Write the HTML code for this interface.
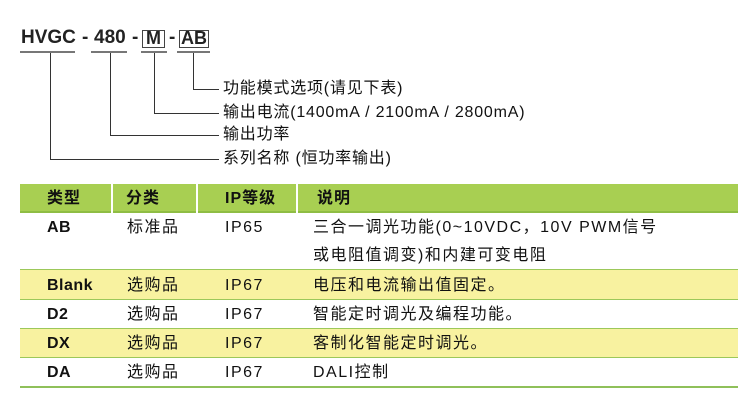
<!DOCTYPE html>
<html><head><meta charset="utf-8"><style>
body{margin:0;width:750px;height:411px;background:#fff;position:relative;overflow:hidden;font-family:"Liberation Sans","Noto Sans CJK SC",sans-serif;color:#111}
.t{position:absolute;font-size:16px;line-height:18px;white-space:nowrap;letter-spacing:1.5px}
.lb{position:absolute;font-size:16px;line-height:18px;white-space:nowrap;letter-spacing:0.8px}
.ln{position:absolute;background:#333}
.ul{position:absolute;height:2px;background:#777;top:51px}
.box{position:absolute;border:1.5px solid #444;top:30px;height:16px}
.code{position:absolute;top:27px;font-size:19px;font-weight:bold;line-height:22px;color:#222}
.hd{position:absolute;top:184px;height:27px;background:#a8cf52;border-bottom:2px solid #8fbd44}
.hdt{position:absolute;top:189px;font-size:16px;font-weight:bold;line-height:20px;letter-spacing:1px}
.row{position:absolute;left:20px;width:718px;border-bottom:1.5px solid #9cc85a}
.c1{font-weight:bold;letter-spacing:0.5px}
</style></head><body>
<div class="code" style="left:21px">HVGC</div>
<div class="code" style="left:82px">-</div>
<div class="code" style="left:94px">480</div>
<div class="code" style="left:132px">-</div>
<div class="code" style="left:146px;font-size:18px">M</div>
<div class="code" style="left:169px">-</div>
<div class="code" style="left:181px;font-size:18px">AB</div>
<div class="box" style="left:142px;width:21px"></div>
<div class="box" style="left:179px;width:28px"></div>
<div class="ul" style="left:20px;width:55px"></div>
<div class="ul" style="left:91px;width:36px"></div>
<div class="ul" style="left:141px;width:26px"></div>
<div class="ul" style="left:177px;width:33px"></div>

<div class="ln" style="left:193px;top:53px;width:1px;height:36px"></div>
<div class="ln" style="left:193px;top:89px;width:26px;height:1px"></div>
<div class="ln" style="left:154px;top:53px;width:1px;height:60px"></div>
<div class="ln" style="left:154px;top:113px;width:65px;height:1px"></div>
<div class="ln" style="left:110px;top:53px;width:1px;height:82px"></div>
<div class="ln" style="left:110px;top:135px;width:109px;height:1px"></div>
<div class="ln" style="left:50px;top:53px;width:1px;height:106px"></div>
<div class="ln" style="left:50px;top:159px;width:169px;height:1px"></div>
<div class="lb" style="left:223px;top:80px">功能模式选项(请见下表)</div>
<div class="lb" style="left:223px;top:104px">输出电流(1400mA / 2100mA / 2800mA)</div>
<div class="lb" style="left:223px;top:126px">输出功率</div>
<div class="lb" style="left:223px;top:150px">系列名称 (恒功率输出)</div>

<div class="hd" style="left:20px;width:91px"></div>
<div class="hd" style="left:113px;width:83px"></div>
<div class="hd" style="left:198px;width:98px"></div>
<div class="hd" style="left:298px;width:440px"></div>
<div class="hdt" style="left:47px">类型</div>
<div class="hdt" style="left:126px">分类</div>
<div class="hdt" style="left:225px">IP等级</div>
<div class="hdt" style="left:317px">说明</div>

<div class="row" style="top:213px;height:56px"></div>
<div class="row" style="top:270px;height:29px;background:#f8f2a0"></div>
<div class="row" style="top:300px;height:28px"></div>
<div class="row" style="top:329px;height:28px;background:#f8f2a0"></div>
<div class="row" style="top:358px;height:28px;border-bottom:2px solid #8fc05a"></div>

<div class="t c1" style="left:47px;top:219px">AB</div>
<div class="t" style="left:127px;top:219px">标准品</div>
<div class="t" style="left:225px;top:219px">IP65</div>
<div class="t" style="left:313px;top:219px">三合一调光功能(0~10VDC，10V PWM信号</div>
<div class="t" style="left:313px;top:247px">或电阻值调变)和内建可变电阻</div>

<div class="t c1" style="left:47px;top:277px">Blank</div>
<div class="t" style="left:127px;top:277px">选购品</div>
<div class="t" style="left:225px;top:277px">IP67</div>
<div class="t" style="left:313px;top:277px">电压和电流输出值固定。</div>

<div class="t c1" style="left:47px;top:306px">D2</div>
<div class="t" style="left:127px;top:306px">选购品</div>
<div class="t" style="left:225px;top:306px">IP67</div>
<div class="t" style="left:313px;top:306px">智能定时调光及编程功能。</div>

<div class="t c1" style="left:47px;top:335px">DX</div>
<div class="t" style="left:127px;top:335px">选购品</div>
<div class="t" style="left:225px;top:335px">IP67</div>
<div class="t" style="left:313px;top:335px">客制化智能定时调光。</div>

<div class="t c1" style="left:47px;top:364px">DA</div>
<div class="t" style="left:127px;top:364px">选购品</div>
<div class="t" style="left:225px;top:364px">IP67</div>
<div class="t" style="left:313px;top:364px">DALI控制</div>
</body></html>
